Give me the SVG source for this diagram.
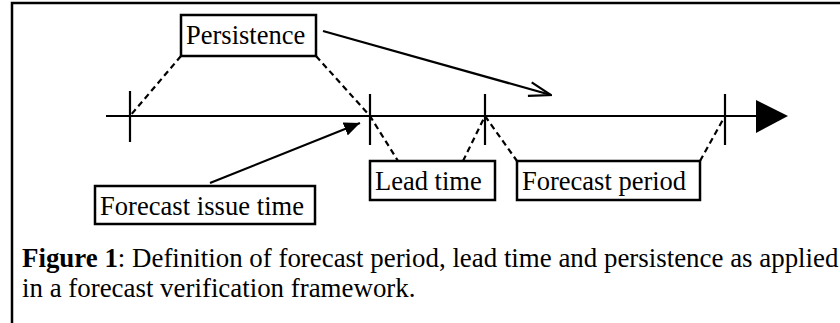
<svg xmlns="http://www.w3.org/2000/svg" width="840" height="323" viewBox="0 0 840 323">
<style>
.box{fill:#fff;stroke:#000;stroke-width:2.5}
.lbl{font-family:"Liberation Serif","Times New Roman",serif;font-size:26.5px;fill:#000}
.cap{font-family:"Liberation Serif","Times New Roman",serif;font-size:26.9px;fill:#000}
.ln{stroke:#000;stroke-width:2.2;fill:none}
.dash{stroke:#000;stroke-width:2.2;fill:none;stroke-dasharray:6,4}
.tick{stroke:#000;stroke-width:2.2}
</style>
<defs>
<marker id="open" viewBox="0 0 24 16" refX="23" refY="8" markerWidth="24" markerHeight="16" markerUnits="userSpaceOnUse" orient="auto">
<path d="M1,1 L23,8 L1,15" fill="none" stroke="#000" stroke-width="2.2"/>
</marker>
<marker id="fill" viewBox="0 0 16 14" refX="16" refY="7" markerWidth="16" markerHeight="14" markerUnits="userSpaceOnUse" orient="auto">
<path d="M0,0 L16,7 L0,14 Z" fill="#000"/>
</marker>
</defs>
<rect x="12" y="3" width="900" height="400" fill="#fff" stroke="#000" stroke-width="2.5"/>
<g id="connectors">
<line class="ln" x1="106" y1="116" x2="760" y2="116"/>
<polygon points="756,100 788,116 756,133" fill="#000"/>
<line class="tick" x1="130" y1="91" x2="130" y2="142"/>
<line class="tick" x1="370" y1="94" x2="370" y2="145"/>
<line class="tick" x1="485" y1="94" x2="485" y2="145"/>
<line class="tick" x1="725" y1="94" x2="725" y2="145"/>
<line class="dash" x1="181" y1="56" x2="130" y2="116"/>
<polyline class="dash" points="316,56 370,116 398,161"/>
<line class="dash" x1="463" y1="161" x2="485" y2="116"/>
<line class="dash" x1="485" y1="116" x2="517" y2="161"/>
<line class="dash" x1="700" y1="161" x2="725" y2="116"/>
<line class="ln" x1="323" y1="31" x2="551" y2="95" marker-end="url(#open)"/>
<line class="ln" x1="210" y1="183" x2="360" y2="123" marker-end="url(#fill)"/>
</g>
<g id="persistence">
<rect class="box" x="181" y="15" width="135" height="41"/>
<text class="lbl" x="186" y="44">Persistence</text>
</g>
<g id="forecast-issue-time">
<rect class="box" x="95" y="186" width="220" height="38"/>
<text class="lbl" x="100" y="215" textLength="204">Forecast issue time</text>
</g>
<g id="lead-time">
<rect class="box" x="370" y="161" width="125" height="39"/>
<text class="lbl" x="375" y="190">Lead time</text>
</g>
<g id="forecast-period">
<rect class="box" x="517" y="161" width="183" height="39"/>
<text class="lbl" x="522" y="190">Forecast period</text>
</g>
<g id="caption">
<text class="cap" x="22" y="267"><tspan font-weight="bold">Figure 1</tspan>: Definition of forecast period, lead time and persistence as applied</text>
<text class="cap" x="22" y="297">in a forecast verification framework.</text>
</g>
</svg>
